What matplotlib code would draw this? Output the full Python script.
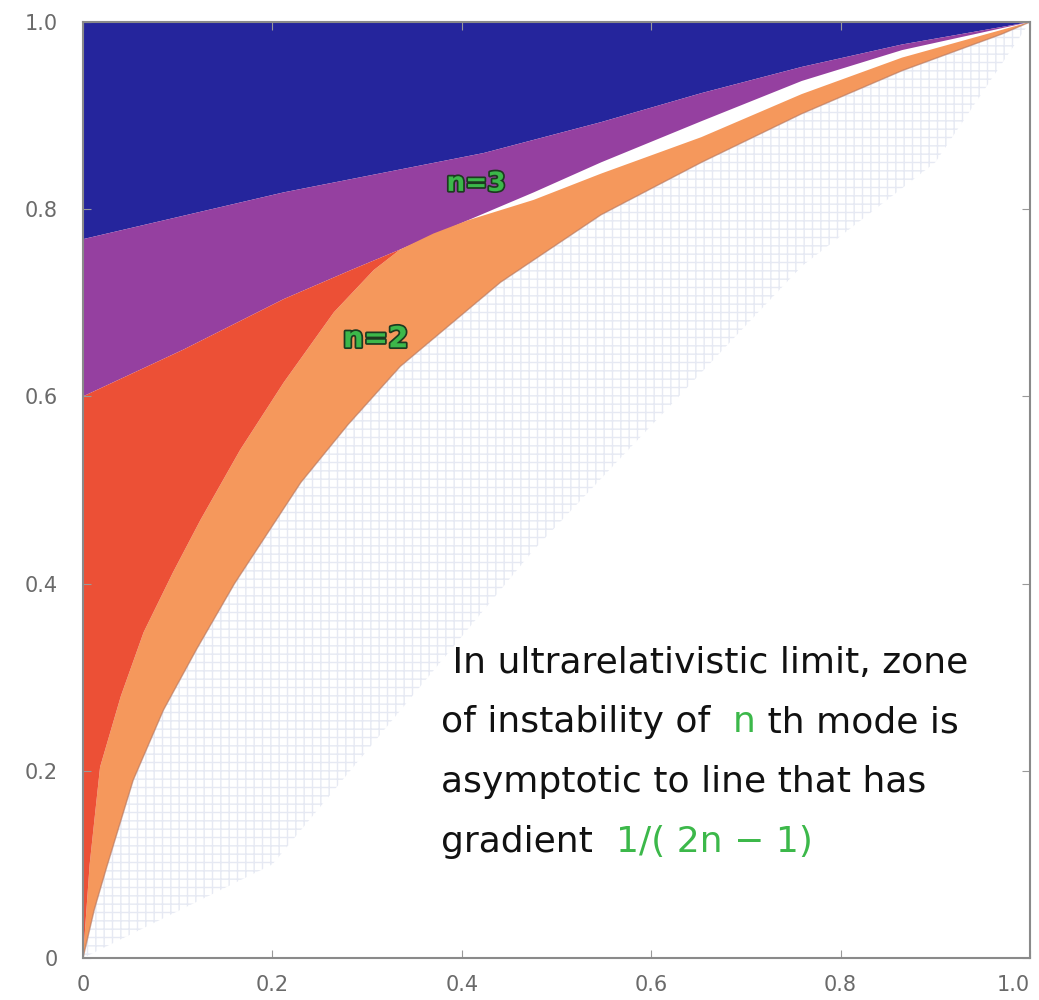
import numpy as np
import matplotlib
matplotlib.use("Agg")
import matplotlib.pyplot as plt
import matplotlib.patheffects as pe

# boundary curves (x, y)
blue_low_x = [0.0, 0.212, 0.423, 0.547, 0.653, 0.759, 0.865, 1.0]
blue_low_y = [0.768, 0.818, 0.860, 0.893, 0.924, 0.952, 0.976, 1.0]

purple_low_x = [0.0, 0.106, 0.212, 0.283, 0.335, 0.406, 0.476, 0.547, 0.653, 0.759, 0.865, 1.0]
purple_low_y = [0.600, 0.650, 0.704, 0.735, 0.757, 0.788, 0.818, 0.850, 0.894, 0.937, 0.970, 1.0]

n2_upper_x = [0.0, 0.007, 0.018, 0.040, 0.064, 0.095, 0.124, 0.166, 0.212, 0.265, 0.307, 0.335,
              0.370, 0.406, 0.476, 0.547, 0.653, 0.759, 0.865, 1.0]
n2_upper_y = [0.0, 0.100, 0.204, 0.280, 0.348, 0.412, 0.468, 0.543, 0.615, 0.690, 0.735, 0.757,
              0.774, 0.788, 0.810, 0.838, 0.877, 0.923, 0.962, 1.0]

outer_x = [0.0, 0.012, 0.025, 0.053, 0.085, 0.12, 0.16, 0.23, 0.28, 0.335, 0.441, 0.547, 0.653,
           0.759, 0.865, 0.97, 1.0]
outer_y = [0.0, 0.052, 0.097, 0.190, 0.265, 0.330, 0.400, 0.508, 0.570, 0.632, 0.722, 0.794, 0.850,
           0.902, 0.948, 0.987, 1.0]

# faint dotted background band under the outer curve
dots_x = [0.0, 0.2, 0.476, 0.759, 0.9, 1.0]
dots_y = [0.0, 0.1, 0.436, 0.739, 0.85, 1.0]

red_end = 0.335

labels = ["n=3", "n=2"]
label_pos = [(0.415, 0.827), (0.309, 0.661)]
label_size = [19, 21]

note_lines = [
    [(" In ultrarelativistic limit, zone", "k")],
    [("of instability of  ", "k"), ("n", "g"), (" th mode is", "k")],
    [("asymptotic to line that has", "k")],
    [("gradient  ", "k"), ("1/( 2n \u2212 1)", "g")],
]

c_blue = "#25259c"
c_purple = "#9540a0"
c_red = "#ec5036"
c_orange = "#f5985c"
c_green = "#3cb84a"

fig = plt.figure(figsize=(10.39, 10.0), dpi=100)
ax = fig.add_axes([0.0799, 0.042, 0.9114, 0.936])

bx, by = np.array(blue_low_x), np.array(blue_low_y)
px, py = np.array(purple_low_x), np.array(purple_low_y)
nx, ny = np.array(n2_upper_x), np.array(n2_upper_y)
ox, oy = np.array(outer_x), np.array(outer_y)
dx, dy = np.array(dots_x), np.array(dots_y)

# dotted band
ax.fill(np.concatenate([ox, dx[::-1]]), np.concatenate([oy, dy[::-1]]),
        facecolor="none", edgecolor="#e6e9f3", hatch="++", linewidth=0)

# blue zone
ax.fill(np.concatenate([bx, [1.0, 0.0]]), np.concatenate([by, [1.0, 1.0]]),
        color=c_blue, linewidth=0)
# purple zone (n=3)
ax.fill(np.concatenate([px, bx[::-1]]), np.concatenate([py, by[::-1]]),
        color=c_purple, linewidth=0)
# light orange zone (n=2)
ax.fill(np.concatenate([ox, nx[::-1]]), np.concatenate([oy, ny[::-1]]),
        color=c_orange, linewidth=0)
ax.plot(ox, oy, color="#b0705a", lw=1.0, alpha=0.6)
# red zone
m1 = nx <= red_end
m2 = px <= red_end
ax.fill(np.concatenate([nx[m1], px[m2][::-1]]), np.concatenate([ny[m1], py[m2][::-1]]),
        color=c_red, linewidth=0)

for lab, (lx, ly), fs in zip(labels, label_pos, label_size):
    ax.text(lx, ly, lab, color=c_green, fontsize=fs, fontweight="bold",
            ha="center", va="center",
            path_effects=[pe.withStroke(linewidth=2.5, foreground="#1d3a20")])

ax.set_xlim(0, 1)
ax.set_ylim(0, 1)
ticks = [0, 0.2, 0.4, 0.6, 0.8, 1.0]
tick_labels = ["0", "0.2", "0.4", "0.6", "0.8", "1.0"]
ax.set_xticks(ticks)
ax.set_xticklabels(tick_labels)
ax.set_yticks(ticks)
ax.set_yticklabels(tick_labels)
ax.tick_params(direction="in", length=6, colors="#999999", labelcolor="#6a6a6a",
               labelsize=15, right=True, top=True)
ax.tick_params(axis="x", pad=12)
ax.tick_params(axis="y", pad=18)
ax.get_xticklabels()[-1].set_horizontalalignment("right")
for s in ax.spines.values():
    s.set_color("#8a8a8a")
    s.set_linewidth(1.5)

# note text, built piece by piece so that colours can change inside a line
fig.canvas.draw()
renderer = fig.canvas.get_renderer()
y0 = 0.305
for i, pieces in enumerate(note_lines):
    x = 0.378
    y = y0 - i * 0.064
    for s, c in pieces:
        col = "#111111" if c == "k" else c_green
        t = ax.text(x, y, s, transform=ax.transAxes, fontsize=26, color=col,
                    family="DejaVu Sans", va="baseline", ha="left")
        bb = t.get_window_extent(renderer)
        x = ax.transAxes.inverted().transform((bb.x1, bb.y0))[0]

fig.savefig("out.png", dpi=100)
